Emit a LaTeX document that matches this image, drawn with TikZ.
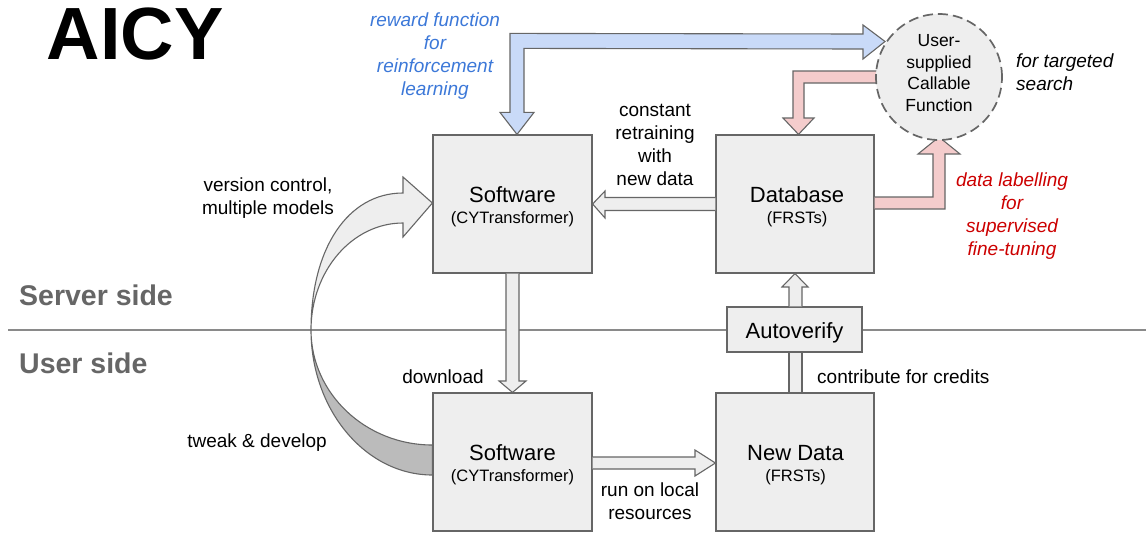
\documentclass[tikz,border=0pt]{standalone}
\usepackage{fontspec}
\setmainfont{Liberation Sans}
\usetikzlibrary{calc}
\definecolor{boxgray}{HTML}{EEEEEE}
\definecolor{bordergray}{HTML}{666666}
\definecolor{linegray}{HTML}{8A8A8A}
\definecolor{darkband}{HTML}{BBBBBB}
\definecolor{bluefill}{HTML}{C9DAF8}
\definecolor{pinkfill}{HTML}{F4CCCC}
\definecolor{bluetext}{HTML}{3C78D8}
\definecolor{redtext}{HTML}{CC0000}
\definecolor{sidegray}{HTML}{666666}
\newcommand{\fs}[2]{\fontsize{#1}{#2}\selectfont}
\tikzset{
  box/.style={draw=bordergray, fill=boxgray, line width=1.2pt, inner sep=0pt},
  blockarrow/.style={draw=bordergray, line width=1.1pt, line join=miter},
  big/.style={font=\fs{22}{26}, anchor=base, inner sep=0pt},
  small/.style={font=\fs{16.5}{20}, anchor=base, inner sep=0pt},
  lbl/.style={font=\fs{19}{23}, align=center, inner sep=0pt},
  side/.style={font=\fs{28.5}{32}\bfseries, text=sidegray, inner sep=0pt, anchor=west}
}
\begin{document}
\begin{tikzpicture}[x=1pt,y=-1pt]
\useasboundingbox (0,0) rectangle (1146,539);

% dividing line
\coordinate (lineL) at (8,330);
\coordinate (lineR) at (1146,330);
\draw[linegray, line width=1.3pt] (lineL) -- (lineR);

% boxes
\node[box, minimum width=159, minimum height=138] (sw1) at (512.5,204) {};
\node[box, minimum width=158, minimum height=138] (db) at (795,204) {};
\node[box, minimum width=159, minimum height=138] (sw2) at (512.5,462) {};
\node[box, minimum width=158, minimum height=138] (nd) at (795,462) {};

% --- block arrows ---
% blue: software <-> callable function
\draw[blockarrow, fill=bluefill]
  ($(sw1.north)+(-2.5,-22)$) -- ($(sw1.north)+(-2.5,-101)$) -- (863,34) -- (863,25) -- (885,41.5)
  -- (863,59) -- (863,49) -- ($(sw1.north)+(11.5,-86)$) -- ($(sw1.north)+(11.5,-22)$)
  -- ($(sw1.north)+(21.5,-22)$) -- ($(sw1.north)+(4.5,0)$) -- ($(sw1.north)+(-12.5,-22)$) -- cycle;
% pink: callable function -> database
\draw[blockarrow, fill=pinkfill]
  (884,71) -- (793,71) -- (793,118) -- (783,118) -- ($(db.north)+(3.5,0)$) -- (814,118)
  -- (804,118) -- (804,83) -- (884,83);
% pink: database -> callable function
\draw[blockarrow, fill=pinkfill]
  ($(db.east)+(0,-7)$) -- (933,197) -- (933,154) -- (918,154) -- (939,137) -- (960,154)
  -- (945,154) -- (945,209) -- ($(db.east)+(0,5)$);
% database -> software (left)
\draw[blockarrow, fill=boxgray]
  ($(db.west)+(0,-6.5)$) -- (605,197.5) -- (605,191) -- ($(sw1.east)+(0,0)$) -- (605,218)
  -- (605,210.5) -- ($(db.west)+(0,6.5)$);
% software -> software (down)
\draw[blockarrow, fill=boxgray]
  ($(sw1.south)+(-6.5,0)$) -- (506,381) -- (499,381) -- ($(sw2.north)+(0,0)$) -- (526,381)
  -- (519,381) -- ($(sw1.south)+(6.5,0)$);
% software -> new data (right)
\draw[blockarrow, fill=boxgray]
  ($(sw2.east)+(0,-5)$) -- (695,457) -- (695,450) -- ($(nd.west)+(0,1)$) -- (695,476)
  -- (695,469) -- ($(sw2.east)+(0,7)$);

% autoverify
\node[box, minimum width=135, minimum height=45] (av) at (794.5,329.5) {};
\node[big] (avt) at (794.5,338) {Autoverify};
% new data -> autoverify
\draw[blockarrow, fill=boxgray]
  ($(nd.north)+(-6,0)$) -- ($(av.south)+(-5.5,0)$) -- ($(av.south)+(7.5,0)$) -- ($(nd.north)+(7,0)$);
% autoverify -> database
\draw[blockarrow, fill=boxgray]
  ($(av.north)+(-5.5,0)$) -- (789,287) -- (782,287) -- ($(db.south)+(0,0)$) -- (808,287)
  -- (802,287) -- ($(av.north)+(7.5,0)$);

% curved arrow (tweak & develop / version control)
\coordinate (cl) at (311,330);
\draw[blockarrow, fill=darkband]
  (cl) .. controls (311,410) and (365.6,475) .. ($(sw2.west)+(0,13)$)
  -- ($(sw2.west)+(0,-17)$) .. controls (365.6,445) and (311,393.5) .. (cl) -- cycle;
\draw[blockarrow, fill=boxgray]
  (cl) .. controls (311,248) and (348,193) .. (403,193) -- (403,177) -- ($(sw1.west)+(0,-1)$)
  -- (403,237) -- (403,223) .. controls (352.2,223) and (311,270.9) .. (cl) -- cycle;

% callable function circle
\node[circle, draw=bordergray, fill=boxgray, line width=1.7pt, dash pattern=on 10pt off 5pt,
      minimum size=126, inner sep=0pt] (ucf) at (939,77) {};
\node[font=\fs{17.5}{21.5}, align=center, inner sep=0pt] (ucft) at (939,73)
      {User-\\supplied\\Callable\\Function};

% box texts
\node[big] (sw1a) at (512.5,202) {Software};
\node[small] (sw1b) at (512.5,223) {(CYTransformer)};
\node[big] (dba) at (797,202) {Database};
\node[small] (dbb) at (797,223) {(FRSTs)};
\node[big] (sw2a) at (512.5,460) {Software};
\node[small] (sw2b) at (512.5,481) {(CYTransformer)};
\node[big] (nda) at (795.5,460) {New Data};
\node[small] (ndb) at (795.5,481) {(FRSTs)};

% title and side labels
\node[font=\fs{74}{78}\bfseries, inner sep=0pt] (title) at (135,34) {AICY};
\node[side] (server) at (19,295) {Server side};
\node[side] (user) at (19,363) {User side};

% labels
\node[lbl, text=bluetext, font=\fs{19}{23}\itshape] (reward) at (435,56.5)
  {reward function\\for\\reinforcement\\learning};
\node[lbl, font=\fs{19}{23}\itshape, align=left, anchor=west] (targ) at (1016,72.5)
  {for targeted\\search};
\node[lbl, text=redtext, font=\fs{19}{23}\itshape] (dlab) at (1012,216.5)
  {data labelling\\for\\supervised\\fine-tuning};
\node[lbl] (retrain) at (655,144.5) {constant\\retraining\\with\\new data};
\node[lbl] (version) at (268,198.5) {version control,\\multiple models};
\node[lbl] (download) at (443,377) {download};
\node[lbl, anchor=west] (contrib) at (817,377) {contribute for credits};
\node[lbl] (tweak) at (257,443) {tweak \& develop};
\node[lbl] (runlocal) at (650,501.5) {run on local\\resources};
\end{tikzpicture}
\end{document}
